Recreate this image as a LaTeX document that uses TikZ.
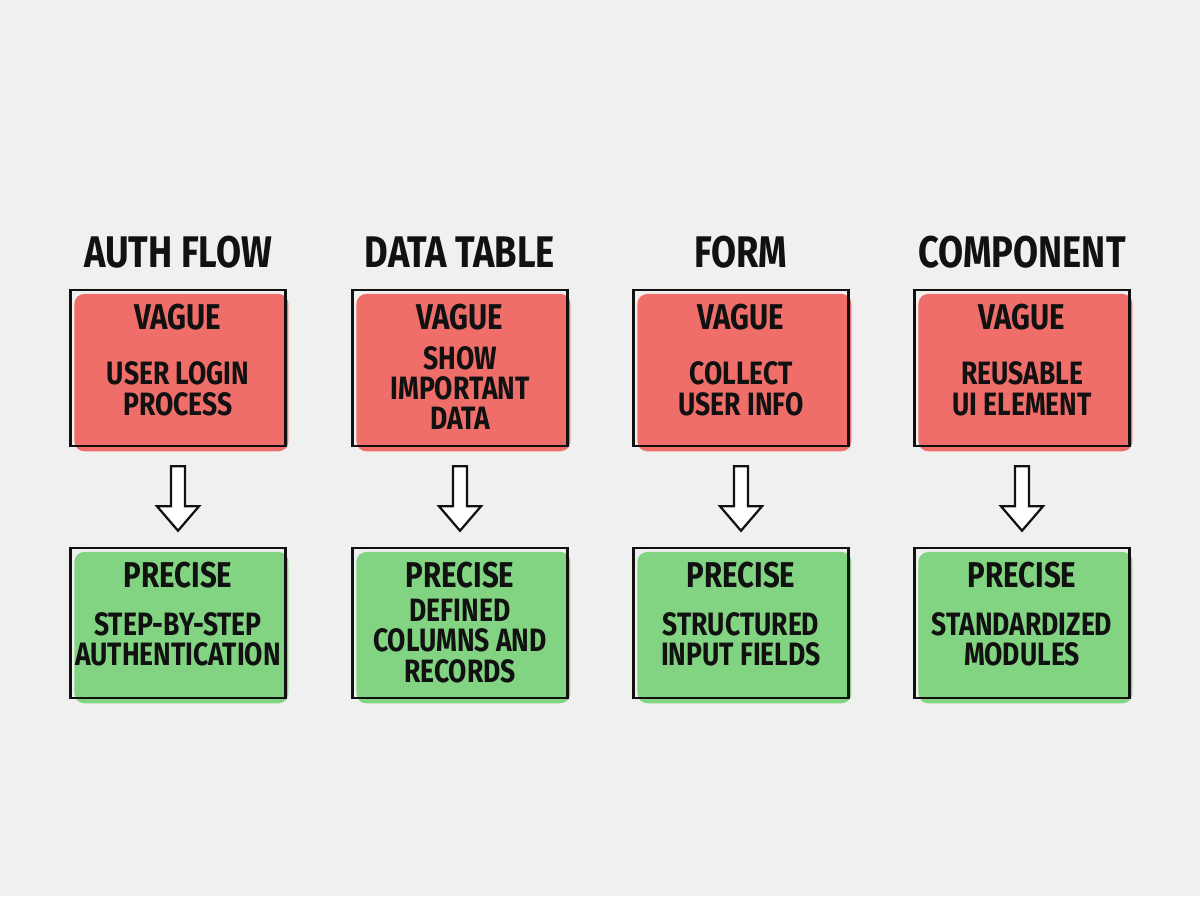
\documentclass[tikz,border=0pt]{standalone}
\usepackage{fontspec}
\setmainfont{Fira Sans}[FakeStretch=0.82]
\usepackage{tikz}
\usetikzlibrary{calc,backgrounds}
\definecolor{bgpaper}{HTML}{F0F0F0}
\definecolor{vaguered}{HTML}{F06E6A}
\definecolor{precisegreen}{HTML}{82D482}
\definecolor{inkblack}{HTML}{111111}
\tikzset{
  coltitle/.style={font=\bfseries\fontsize{31.5}{33}\selectfont,text=inkblack},
  vaguebox/.style={draw=inkblack,line width=1.8pt,minimum width=5.375cm,minimum height=3.9cm,inner sep=0pt},
  precisebox/.style={vaguebox,minimum height=3.75cm},
  headtxt/.style={font=\bfseries\fontsize{25.5}{27}\selectfont,text=inkblack},
  bodytxt/.style={font=\bfseries\fontsize{23}{21.5}\selectfont,text=inkblack,align=center},
  sketchfill/.style={rounded corners=7pt},
  hollowarr/.style={draw=inkblack,fill=white,line width=1.6pt,line join=miter},
}
\begin{document}
\begin{tikzpicture}
  \useasboundingbox (0,0) rectangle (30,-22.4);
  % titles
  \node[coltitle] (t1) at (4.45,-6.3) {AUTH FLOW};
  \node[coltitle] (t2) at (11.5,-6.3) {DATA TABLE};
  \node[coltitle] (t3) at (18.525,-6.3) {FORM};
  \node[coltitle] (t4) at (25.55,-6.3) {COMPONENT};
  % vague row
  \node[vaguebox] (v1) at (4.45,-9.2) {};
  \node[vaguebox] (v2) at (11.5,-9.2) {};
  \node[vaguebox] (v3) at (18.525,-9.2) {};
  \node[vaguebox] (v4) at (25.55,-9.2) {};
  \node[headtxt] (vh1) at ($(v1.north)+(0,-0.7)$) {VAGUE};
  \node[headtxt] (vh2) at ($(v2.north)+(0,-0.7)$) {VAGUE};
  \node[headtxt] (vh3) at ($(v3.north)+(0,-0.7)$) {VAGUE};
  \node[headtxt] (vh4) at ($(v4.north)+(0,-0.7)$) {VAGUE};
  \node[bodytxt] (vb1) at ($(v1.center)+(0,-0.52)$) {USER LOGIN\\PROCESS};
  \node[bodytxt] (vb2) at ($(v2.center)+(0,-0.5)$) {SHOW\\IMPORTANT\\DATA};
  \node[bodytxt] (vb3) at ($(v3.center)+(0,-0.52)$) {COLLECT\\USER INFO};
  \node[bodytxt] (vb4) at ($(v4.center)+(0,-0.52)$) {REUSABLE\\UI ELEMENT};
  % precise row
  \node[precisebox] (p1) at (4.45,-15.575) {};
  \node[precisebox] (p2) at (11.5,-15.575) {};
  \node[precisebox] (p3) at (18.525,-15.575) {};
  \node[precisebox] (p4) at (25.55,-15.575) {};
  \node[headtxt] (ph1) at ($(p1.north)+(0,-0.7)$) {PRECISE};
  \node[headtxt] (ph2) at ($(p2.north)+(0,-0.7)$) {PRECISE};
  \node[headtxt] (ph3) at ($(p3.north)+(0,-0.7)$) {PRECISE};
  \node[headtxt] (ph4) at ($(p4.north)+(0,-0.7)$) {PRECISE};
  \node[bodytxt] (pb1) at ($(p1.center)+(0,-0.4)$) {STEP-BY-STEP\\AUTHENTICATION};
  \node[bodytxt] (pb2) at ($(p2.center)+(0,-0.45)$) {DEFINED\\COLUMNS AND\\RECORDS};
  \node[bodytxt] (pb3) at ($(p3.center)+(0,-0.4)$) {STRUCTURED\\INPUT FIELDS};
  \node[bodytxt] (pb4) at ($(p4.center)+(0,-0.4)$) {STANDARDIZED\\MODULES};
  % sketchy fills behind the outlines
  \begin{scope}[on background layer]
    \fill[bgpaper] (0,0) rectangle (30,-22.4);
    \fill[vaguered,sketchfill] ($(v1.north west)+(0.13,-0.13)$) rectangle ($(v1.south east)+(0.04,-0.1)$);
    \fill[vaguered,sketchfill] ($(v2.north west)+(0.13,-0.13)$) rectangle ($(v2.south east)+(0.04,-0.1)$);
    \fill[vaguered,sketchfill] ($(v3.north west)+(0.13,-0.13)$) rectangle ($(v3.south east)+(0.04,-0.1)$);
    \fill[vaguered,sketchfill] ($(v4.north west)+(0.13,-0.13)$) rectangle ($(v4.south east)+(0.04,-0.1)$);
    \fill[precisegreen,sketchfill] ($(p1.north west)+(0.13,-0.13)$) rectangle ($(p1.south east)+(0.04,-0.1)$);
    \fill[precisegreen,sketchfill] ($(p2.north west)+(0.13,-0.13)$) rectangle ($(p2.south east)+(0.04,-0.1)$);
    \fill[precisegreen,sketchfill] ($(p3.north west)+(0.13,-0.13)$) rectangle ($(p3.south east)+(0.04,-0.1)$);
    \fill[precisegreen,sketchfill] ($(p4.north west)+(0.13,-0.13)$) rectangle ($(p4.south east)+(0.04,-0.1)$);
  \end{scope}
  % hollow arrows vague -> precise
  \draw[hollowarr] ($(v1.south)+(-0.175,-0.475)$) -- ++(0,-1) -- ++(-0.35,0) -- ($(p1.north)+(0,0.4)$) -- ($(v1.south)+(0.525,-1.475)$) -- ++(-0.35,0) -- ++(0,1) -- cycle;
  \draw[hollowarr] ($(v2.south)+(-0.175,-0.475)$) -- ++(0,-1) -- ++(-0.35,0) -- ($(p2.north)+(0,0.4)$) -- ($(v2.south)+(0.525,-1.475)$) -- ++(-0.35,0) -- ++(0,1) -- cycle;
  \draw[hollowarr] ($(v3.south)+(-0.175,-0.475)$) -- ++(0,-1) -- ++(-0.35,0) -- ($(p3.north)+(0,0.4)$) -- ($(v3.south)+(0.525,-1.475)$) -- ++(-0.35,0) -- ++(0,1) -- cycle;
  \draw[hollowarr] ($(v4.south)+(-0.175,-0.475)$) -- ++(0,-1) -- ++(-0.35,0) -- ($(p4.north)+(0,0.4)$) -- ($(v4.south)+(0.525,-1.475)$) -- ++(-0.35,0) -- ++(0,1) -- cycle;
\end{tikzpicture}
\end{document}
